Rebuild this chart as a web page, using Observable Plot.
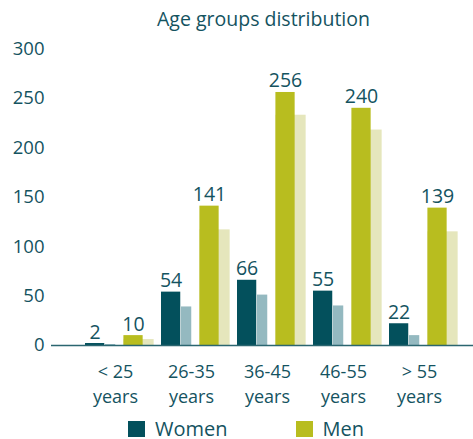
<!DOCTYPE html>
<html>
<head>
<meta charset="utf-8">
<script src="https://cdn.jsdelivr.net/npm/d3@7"></script>
<script src="https://cdn.jsdelivr.net/npm/@observablehq/plot@0.6"></script>
<style>
  body { margin: 0; background: #fff; font-family: "Open Sans", sans-serif; color: #14535f; }
  #wrap { width: 473px; height: 439px; position: relative; }
  #title { height: 40px; box-sizing: border-box; padding-top: 6px; padding-left: 54px; text-align: center; font-size: 19.5px; line-height: 26px; }
  #chart svg { overflow: visible; }
  #legend { position: absolute; top: 415px; left: 128px; height: 28px; display: flex; align-items: center; font-size: 20px; line-height: 28px; }
  .sw { display: inline-block; width: 17px; height: 16px; margin-right: 10px; }
  .item { display: flex; align-items: center; height: 28px; }
</style>
</head>
<body>
<div id="wrap">
  <div id="title">Age groups distribution</div>
  <div id="chart"></div>
  <div id="legend"></div>
</div>
<script>
const groups = ["< 25\nyears", "26-35\nyears", "36-45\nyears", "46-55\nyears", "> 55\nyears"];
const women = [2, 54, 66, 55, 22];
const men = [10, 141, 256, 240, 139];
const womenShadow = [1, 39, 51, 40, 10];
const menShadow = [6, 117, 233, 218, 115];
const yTicks = [0, 50, 100, 150, 200, 250, 300];
const seriesNames = ["Women", "Men"];
const colors = { Women: "#03505c", WomenShadow: "#94b9c0", Men: "#b8bd1f", MenShadow: "#e5e6bc" };
const textColor = "#14535f";

const rows = groups.map((g, i) => ({ group: g, women: women[i], men: men[i], womenShadow: womenShadow[i], menShadow: menShadow[i] }));

const step = 76.75;
const fontSize = 18;

const chart = Plot.plot({
  width: 473,
  height: 370,
  marginLeft: 51,
  marginRight: 0,
  marginTop: 8.5,
  marginBottom: 65,
  style: { fontFamily: "Open Sans, sans-serif", fontSize: fontSize + "px", color: textColor, background: "white", overflow: "visible" },
  x: { domain: groups, paddingInner: 0, paddingOuter: 0.249, align: 0.81, label: null },
  y: { domain: [0, 300], label: null },
  marks: [
    Plot.barY(rows, { x: "group", y: "womenShadow", fill: colors.WomenShadow, insetLeft: 20, insetRight: step - 31 }),
    Plot.barY(rows, { x: "group", y: "menShadow", fill: colors.MenShadow, insetLeft: 38.4, insetRight: step - 69.4 }),
    Plot.barY(rows, { x: "group", y: "women", fill: colors.Women, insetLeft: 0, insetRight: step - 20 }),
    Plot.barY(rows, { x: "group", y: "men", fill: colors.Men, insetLeft: 38.4, insetRight: step - 58.4 }),
    Plot.text(rows, { x: "group", y: "women", text: d => String(d.women), dx: 10 - step / 2, dy: -5, lineAnchor: "bottom", fill: textColor, fontSize: 19.5 }),
    Plot.text(rows, { x: "group", y: "men", text: d => String(d.men), dx: 48.4 - step / 2, dy: -5, lineAnchor: "bottom", fill: textColor, fontSize: 19.5 }),
    Plot.axisY({ ticks: yTicks, tickSize: 0, tickPadding: 7, fill: textColor, fontSize: 18.5, label: null }),
    Plot.axisX({ tickSize: 0, tickPadding: 15, dx: -8, lineHeight: 1.39, fill: textColor, fontSize: fontSize, label: null }),
    Plot.ruleX([0], { x: () => 0, frameAnchor: "left", stroke: "#2b6670", strokeWidth: 1.3 }),
    Plot.ruleY([0], { stroke: "#2b6670", strokeWidth: 1.5 })
  ]
});
document.getElementById("chart").appendChild(chart);

const legend = document.getElementById("legend");
seriesNames.forEach((name, i) => {
  const item = document.createElement("span");
  item.className = "item";
  if (i > 0) item.style.marginLeft = "68px";
  item.innerHTML = `<span class="sw" style="background:${colors[name]}"></span><span>${name}</span>`;
  legend.appendChild(item);
});
</script>
</body>
</html>
